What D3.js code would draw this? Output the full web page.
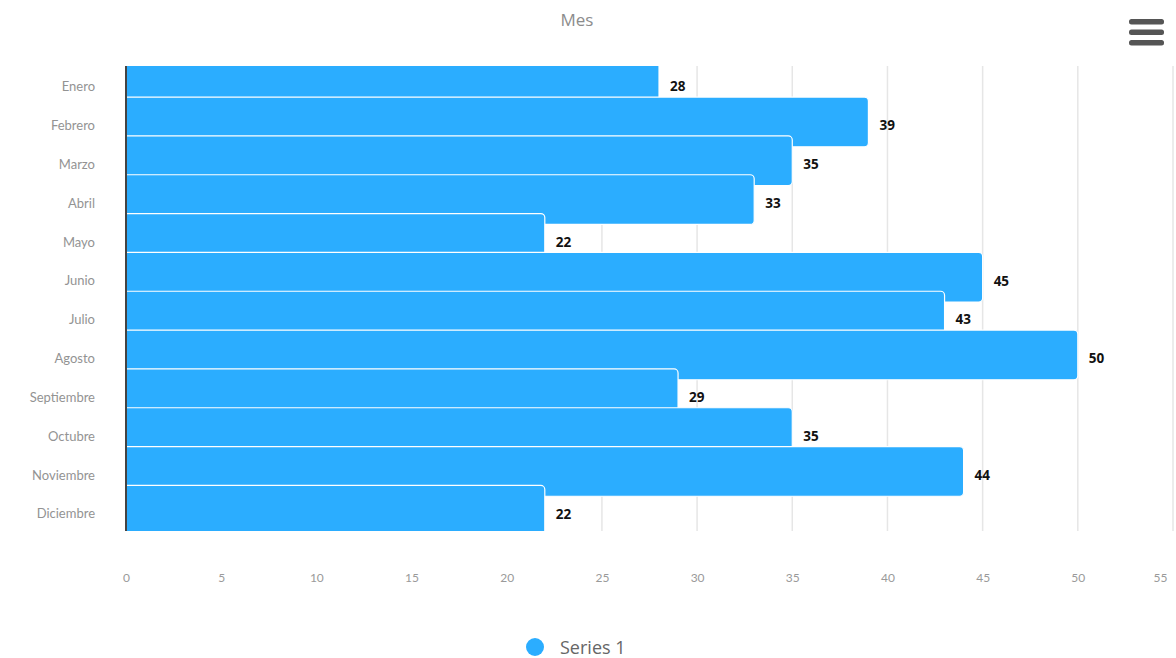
<!DOCTYPE html>
<html>
<head>
<meta charset="utf-8">
<script src="https://cdn.jsdelivr.net/npm/d3@7"></script>
<style>
  body { margin: 0; background: #fff; }
  svg { display: block; font-family: "Open Sans", "DejaVu Sans", sans-serif; }
</style>
</head>
<body>
<div id="chart"></div>
<script>
// data
const months = ['Enero', 'Febrero', 'Marzo', 'Abril', 'Mayo', 'Junio', 'Julio',
                'Agosto', 'Septiembre', 'Octubre', 'Noviembre', 'Diciembre'];
const series1 = [28, 39, 35, 33, 22, 45, 43, 50, 29, 35, 44, 22];
const xTicks = [0, 5, 10, 15, 20, 25, 30, 35, 40, 45, 50, 55];
const seriesName = 'Series 1';
const chartTitle = 'Mes';

document.addEventListener('DOMContentLoaded', function() {
    const W = 1176, H = 658;
    const margin = {top: 66, right: 3, bottom: 126, left: 126};
    const barColor = '#2badff';

    const svg = d3.select('#chart').append('svg')
                  .attr('width', W)
                  .attr('height', H);

    const x = d3.scaleLinear()
                .domain([0, 55])
                .range([margin.left, W - margin.right]);

    const y = d3.scaleBand()
                .domain(months)
                .range([margin.top, H - margin.bottom])
                .padding(0);

    const step = y.step();

    // title
    svg.append('text')
       .attr('x', 577).attr('y', 26)
       .attr('text-anchor', 'middle')
       .attr('fill', '#8c8c8c')
       .style('font-size', '17px')
       .text(chartTitle);

    // menu icon
    svg.append('g')
       .selectAll('rect')
       .data([0, 1, 2])
       .join('rect')
       .attr('x', 1129).attr('y', d => 19 + d * 10.5)
       .attr('width', 35).attr('height', 5.5)
       .attr('rx', 2.5)
       .attr('fill', '#555');

    // grid
    svg.append('g')
       .selectAll('line')
       .data(xTicks.slice(1))
       .join('line')
       .attr('x1', d => x(d)).attr('x2', d => x(d))
       .attr('y1', margin.top).attr('y2', H - margin.bottom - 1)
       .attr('stroke', '#e6e6e6')
       .attr('stroke-width', 1.5);

    // clip for bars
    svg.append('clipPath').attr('id', 'plot')
       .append('rect')
       .attr('x', margin.left).attr('y', margin.top)
       .attr('width', W - margin.right - margin.left)
       .attr('height', H - margin.bottom - margin.top - 1);

    svg.append('g')
       .attr('clip-path', 'url(#plot)')
       .selectAll('rect')
       .data(series1)
       .join('rect')
       .attr('x', margin.left - 6)
       .attr('y', (d, i) => y(months[i]) - step * 0.2)
       .attr('width', d => x(d) - margin.left + 6)
       .attr('height', step * 1.28)
       .attr('rx', 4)
       .attr('fill', barColor)
       .attr('stroke', '#fff')
       .attr('stroke-width', 1.2);

    // data labels
    svg.append('g')
       .selectAll('text')
       .data(series1)
       .join('text')
       .attr('x', d => x(d) + 11)
       .attr('y', (d, i) => y(months[i]) + step / 2 + 6)
       .attr('fill', '#111')
       .style('font-size', '13.5px')
       .style('font-weight', 'bold')
       .text(d => d);

    // y axis
    const yAxis = svg.append('g')
                     .attr('transform', `translate(${margin.left},0)`)
                     .call(d3.axisLeft(y).tickSize(0).tickPadding(31));
    yAxis.select('.domain').attr('stroke', '#444').attr('stroke-width', 2)
         .attr('d', `M0,${margin.top}V${H - margin.bottom - 1}`);
    yAxis.selectAll('text')
         .attr('fill', '#939393')
         .attr('dy', '0.45em')
         .style('font-size', '13px')
         .style('font-family', 'Lato, "Open Sans", sans-serif');

    // x axis
    const xAxis = svg.append('g')
                     .attr('transform', `translate(0,${H - margin.bottom + 38})`)
                     .call(d3.axisBottom(x).tickValues(xTicks).tickSize(0));
    xAxis.select('.domain').remove();
    xAxis.selectAll('text')
         .attr('fill', '#9a9a9a')
         .style('font-size', '12px')
         .style('font-family', 'Lato, "Open Sans", sans-serif')
         .attr('dx', d => d === 55 ? -13 : 0);

    // legend
    const legend = svg.append('g').attr('transform', 'translate(535,647)');
    legend.append('circle').attr('r', 9).attr('fill', barColor);
    legend.append('text')
          .attr('x', 25).attr('y', 0)
          .attr('dominant-baseline', 'central')
          .attr('fill', '#666')
          .style('font-size', '18px')
          .text(seriesName);
});
</script>
</body>
</html>
